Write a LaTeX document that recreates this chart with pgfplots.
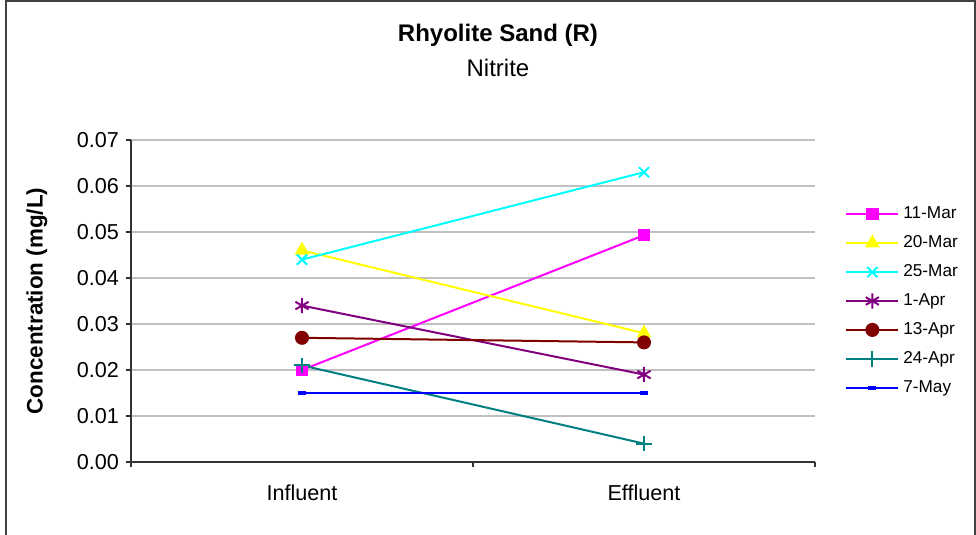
\documentclass[border=0pt]{standalone}
\usepackage{fontspec}
\setmainfont{Liberation Sans}
\usepackage{pgfplots}
\pgfplotsset{compat=1.18}

\definecolor{cmag}{RGB}{255,0,255}
\definecolor{cyel}{RGB}{255,255,0}
\definecolor{ccya}{RGB}{0,255,255}
\definecolor{cpur}{RGB}{128,0,128}
\definecolor{cred}{RGB}{128,0,0}
\definecolor{ctea}{RGB}{0,128,128}
\definecolor{cblu}{RGB}{0,0,255}
\definecolor{cgrid}{RGB}{192,192,192}

\begin{document}
\begin{tikzpicture}[x=1pt,y=1pt]
\useasboundingbox (-65.5,-36.5) rectangle (422.5,231);
\draw[line width=1pt, black!75] (-62.5,-40) -- (-62.5,230.5) -- (422,230.5) -- (422,-40);
\node[font=\bfseries\fontsize{12}{14}\selectfont] at (183.5,213.5) {Rhyolite Sand (R)};
\node[font=\fontsize{12}{14}\selectfont] at (183.5,197) {Nitrite};
\begin{axis}[
  at={(0,0)}, anchor=south west,
  scale only axis, width=342pt, height=161pt,
  xmin=-0.5, xmax=1.5, ymin=0, ymax=0.07,
  xtick={0,1}, xticklabels={Influent,Effluent},
  minor xtick={-0.5,0.5,1.5},
  major x tick style={draw=none},
  xticklabel style={yshift=-5.5pt},
  ytick={0,0.01,0.02,0.03,0.04,0.05,0.06,0.07},
  scaled y ticks=false,
  yticklabel style={/pgf/number format/fixed, /pgf/number format/fixed zerofill, /pgf/number format/precision=2},
  /pgf/number format/assume math mode=true,
  tick label style={font=\fontsize{10.8}{12}\selectfont},
  tick align=outside, major tick length=2.5pt, minor tick length=2.5pt,
  axis x line*=bottom, axis y line*=left,
  axis line style={black!80, line width=0.7pt},
  tick style={black!80, line width=0.6pt},
  ymajorgrids, grid style={cgrid, line width=0.6pt},
  ylabel={\bfseries Concentration (mg/L)},
  ylabel style={at={(axis description cs:-0.1375,0.5)}, anchor=center, font=\fontsize{11.2}{13}\selectfont},
  legend style={at={(axis description cs:1.035,0.5)}, anchor=west, draw=none,
    font=\fontsize{8.6}{9}\selectfont, row sep=3pt, fill=none},
  legend cell align=left,
  legend image code/.code={\draw[mark repeat=2,mark phase=2] plot coordinates {(0pt,0pt)(13pt,0pt)(26pt,0pt)};},
  every axis plot/.append style={line width=1pt},
]
\addplot[cmag, mark=square*, mark size=2.6pt] coordinates {(0,0.020) (1,0.0493)};
\addlegendentry{11-Mar}
\addplot[cyel, mark=triangle*, mark size=3.3pt] coordinates {(0,0.046) (1,0.028)};
\addlegendentry{20-Mar}
\addplot[ccya, mark=x, mark size=3.6pt] coordinates {(0,0.044) (1,0.063)};
\addlegendentry{25-Mar}
\addplot[cpur, mark=asterisk, mark size=3.8pt] coordinates {(0,0.034) (1,0.019)};
\addlegendentry{1-Apr}
\addplot[cred, mark=*, mark size=3pt] coordinates {(0,0.027) (1,0.026)};
\addlegendentry{13-Apr}
\addplot[ctea, mark=+, mark size=3.8pt] coordinates {(0,0.021) (1,0.004)};
\addlegendentry{24-Apr}
\addplot[cblu, mark=-, mark size=2pt, mark options={line width=2pt}] coordinates {(0,0.015) (1,0.015)};
\addlegendentry{7-May}
\end{axis}
\end{tikzpicture}
\end{document}
